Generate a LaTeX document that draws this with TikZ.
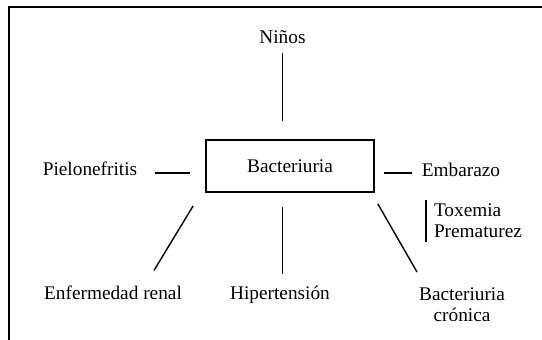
\documentclass[tikz,border=0pt]{standalone}
\usepackage{fontspec}
\setmainfont{Liberation Serif}
\begin{document}
\begin{tikzpicture}[x=1pt,y=1pt,
  lbl/.style={inner sep=0pt, outer sep=0pt, font=\fontsize{19.3}{20.5}\selectfont},
  conn/.style={line width=1.4pt},
  frame/.style={line width=2.2pt}]
\useasboundingbox (0,0) rectangle (542,340);
\draw[frame] (9,0) -- (9,333) -- (542,333);

\node[draw, line width=1.6pt, minimum width=168pt, minimum height=52pt, inner sep=0pt,
      font=\fontsize{19.3}{21}\selectfont] (box) at (290,174) {Bacteriuria};

\node[lbl, anchor=base] (nino) at (282.5,296) {Niños};
\node[lbl, anchor=base] (pielo) at (90,164) {Pielonefritis};
\node[lbl, anchor=base] (emb) at (461,163) {Embarazo};
\node[lbl, anchor=north west, align=left] (tox) at (434,136) {Toxemia\\Prematurez};
\node[lbl, anchor=base] (enf) at (113,40) {Enfermedad renal};
\node[lbl, anchor=base] (hip) at (280,40) {Hipertensión};
\node[lbl, anchor=north, align=center] (bac) at (462,52) {Bacteriuria\\crónica};

\draw[conn, shorten <=9pt, shorten >=18pt] (nino.south) -- (nino.south |- box.north);
\draw[conn, shorten <=18pt, shorten >=15pt] ([yshift=3pt]pielo.base east) -- ([yshift=3pt]pielo.base east -| box.west);
\draw[conn, shorten <=9pt, shorten >=10pt] ([yshift=4pt]emb.base west -| box.east) -- ([yshift=4pt]emb.base west);
\draw[conn] ([xshift=-8pt,yshift=4pt]tox.north west) -- ([xshift=-8pt,yshift=-5pt]tox.south west);
\draw[conn] ([shift={(-12,-13)}]box.south west) -- ([shift={(41,16)}]enf.north);
\draw[conn, shorten <=14pt, shorten >=13pt] (box.south -| nino.south) -- (hip.north -| nino.south);
\draw[conn] ([shift={(3,-11)}]box.south east) -- ([shift={(-45,16)}]bac.north);
\end{tikzpicture}
\end{document}
